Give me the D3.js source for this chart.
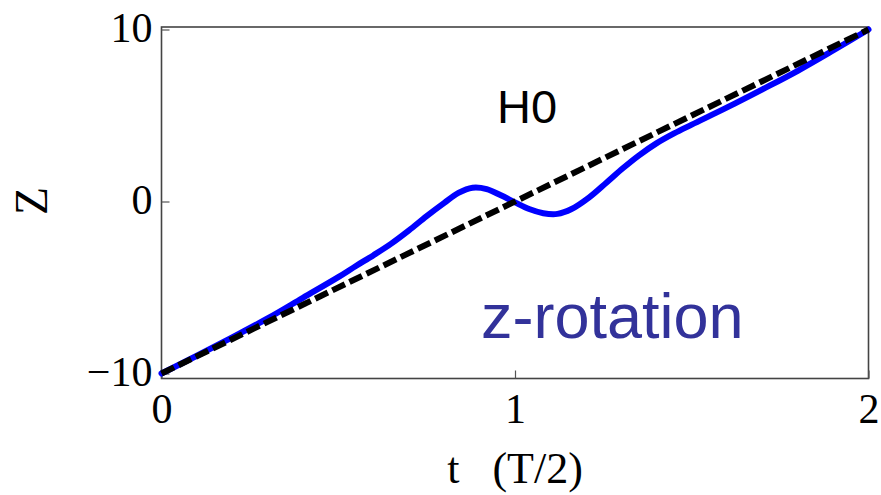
<!DOCTYPE html>
<html>
<head>
<meta charset="utf-8">
<script src="https://cdn.jsdelivr.net/npm/d3@7"></script>
<style>
  body { margin: 0; background: #fff; }
  svg { display: block; }
</style>
</head>
<body>
<div id="chart"></div>
<script>
// data
var tValues = [0, 0.1, 0.2, 0.3, 0.4, 0.5, 0.55, 0.6, 0.65, 0.7, 0.75, 0.8, 0.84, 0.88, 0.92, 0.96, 1.0,
               1.04, 1.08, 1.12, 1.16, 1.21, 1.26, 1.305, 1.35, 1.4, 1.45, 1.5, 1.6, 1.7, 1.8, 1.9, 2.0];
var zRotation = [-10, -8.97, -7.9, -6.8, -5.6, -4.4, -3.75, -3.12, -2.45, -1.68, -0.85, -0.08, 0.5, 0.8, 0.72, 0.36, -0.05,
                 -0.44, -0.68, -0.72, -0.44, 0.24, 1.12, 1.93, 2.67, 3.38, 3.96, 4.47, 5.47, 6.52, 7.6, 8.78, 10];
var h0T = [0, 2];
var h0Z = [-10, 10];
var xTicks = [0, 1, 2];
var yTicks = [-10, 0, 10];

var width = 881, height = 495;

var svg = d3.select("#chart")
  .append("svg")
    .attr("width", width)
    .attr("height", height);

var x = d3.scaleLinear().domain([0, 2]).range([161.5, 868.5]);
var y = d3.scaleLinear().domain([-10, 10]).range([373.5, 29.5]);

var frameTop = 27, frameBottom = 378.5;

// frame
svg.append("rect")
  .attr("x", x(0))
  .attr("y", frameTop)
  .attr("width", x(2) - x(0))
  .attr("height", frameBottom - frameTop)
  .attr("fill", "none")
  .attr("stroke", "#444")
  .attr("stroke-width", 1.6);

// axes
var yAxis = d3.axisLeft(y).tickValues(yTicks).tickSizeInner(-8).tickSizeOuter(0).tickPadding(9)
  .tickFormat(function(d) { return d < 0 ? "\u2212" + Math.abs(d) : d; });
var xAxis = d3.axisBottom(x).tickValues(xTicks).tickSizeInner(-8).tickSizeOuter(0).tickPadding(15)
  .tickFormat(d3.format("d"));

var gy = svg.append("g").attr("transform", "translate(" + x(0) + ",0)").call(yAxis);
var gx = svg.append("g").attr("transform", "translate(0," + frameBottom + ")").call(xAxis);

[gx, gy].forEach(function(g) {
  g.select(".domain").remove();
  g.selectAll(".tick line").attr("stroke", "#555").attr("stroke-width", 1.2);
  g.selectAll(".tick text")
    .attr("fill", "#000")
    .style("font-family", "'Liberation Serif', 'Times New Roman', serif")
    .style("font-size", "42px");
});
gy.selectAll(".tick text").attr("dy", "0.28em");

var h0 = h0T.map(function(t, i) { return {t: t, z: h0Z[i]}; });
var zr = tValues.map(function(t, i) { return {t: t, z: zRotation[i]}; });

var line = d3.line()
  .x(function(d) { return x(d.t); })
  .y(function(d) { return y(d.z); });

// z-rotation curve
svg.append("path")
  .datum(zr)
  .attr("d", d3.line()
    .x(function(d) { return x(d.t); })
    .y(function(d) { return y(d.z); })
    .curve(d3.curveCatmullRom.alpha(0.5)))
  .attr("fill", "none")
  .attr("stroke", "#0000ff")
  .attr("stroke-width", 6)
  .attr("stroke-linecap", "round");

// H0 dashed line on top
svg.append("path")
  .datum(h0)
  .attr("d", line)
  .attr("fill", "none")
  .attr("stroke", "#000")
  .attr("stroke-width", 6)
  .attr("stroke-dasharray", "14,5");

// labels
svg.append("text")
  .attr("x", 515)
  .attr("y", 483)
  .attr("text-anchor", "middle")
  .style("white-space", "pre")
  .style("font-family", "'Liberation Serif', 'Times New Roman', serif")
  .style("font-size", "44px")
  .text("t   (T/2)");

svg.append("text")
  .attr("transform", "translate(47,201) rotate(-90)")
  .attr("text-anchor", "middle")
  .style("font-family", "'Liberation Serif', 'Times New Roman', serif")
  .style("font-size", "46px")
  .text("Z");

svg.append("text")
  .attr("x", 497)
  .attr("y", 123)
  .style("font-family", "'Liberation Sans', Arial, sans-serif")
  .style("font-size", "47px")
  .attr("fill", "#000")
  .text("H0");

svg.append("text")
  .attr("x", 481)
  .attr("y", 338)
  .style("font-family", "'Liberation Sans', Arial, sans-serif")
  .style("font-size", "63px")
  .attr("fill", "#32329a")
  .text("z-rotation");
</script>
</body>
</html>
